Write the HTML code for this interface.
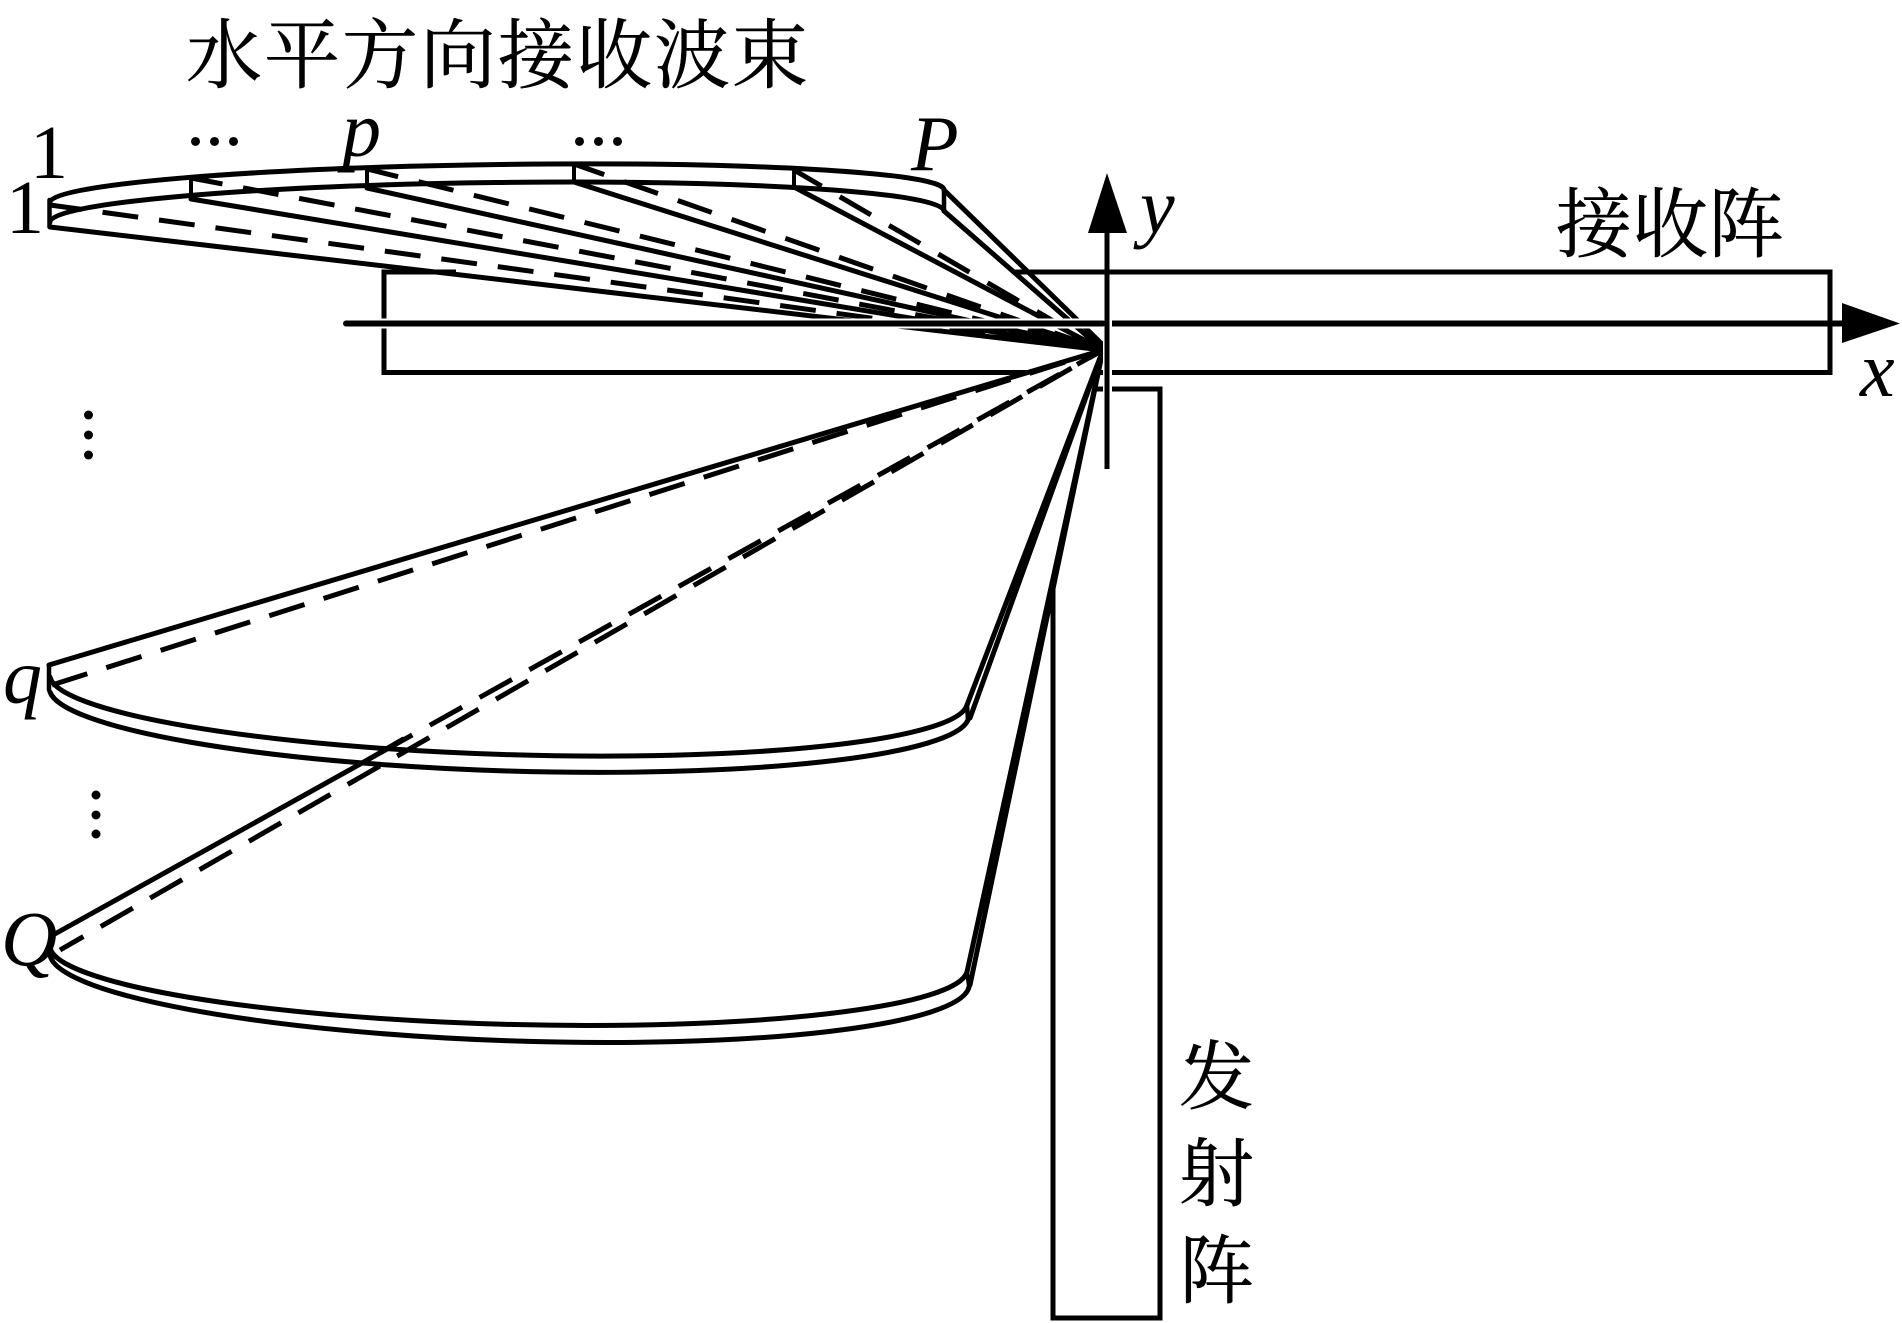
<!DOCTYPE html>
<html><head><meta charset="utf-8"><style>
html,body{margin:0;padding:0;background:#fff}
svg{display:block}
.s{font-family:"Liberation Serif","Noto Serif CJK SC",serif;fill:#000;stroke:#000;stroke-width:.5}
.i{font-family:"Liberation Serif",serif;font-style:italic;fill:#000;font-size:78px}
.n{font-family:"Liberation Serif",serif;fill:#000;font-size:76px}
</style></head><body>
<svg width="1902" height="1323" viewBox="0 0 1902 1323" xmlns="http://www.w3.org/2000/svg">
<rect width="1902" height="1323" fill="#fff"/>
<g fill="none" stroke="#000" stroke-width="5">
<rect x="384" y="272" width="1446" height="100.5"/>
<rect x="1053" y="389" width="107" height="929"/>
</g>
<!-- white beam fills -->
<g fill="#fff" stroke="none">
<path d="M50 202 A447 31.5 -0.8 0 1 944 190 L944 211 L1103 350 L50 227Z"/>
<path d="M53 935 L1103 350 L970 985 L967 972 L50 950Z"/>
<path d="M49 665 L1103 350 L970 718 L50 692Z"/>
<path d="M50 950 A459 72 2 0 0 969 987 L1103 350 L53 935Z"/>
</g>
<line x1="384" y1="272" x2="456" y2="272" stroke="#000" stroke-width="5"/>
<g fill="none" stroke="#000" stroke-width="5" stroke-linecap="round" stroke-linejoin="round">
<!-- top beam -->
<path d="M50 202 A447 31.5 -0.8 0 1 944 190"/>
<path d="M50 222 A447 34 -0.7 0 1 944 211"/>
<path d="M49.5 200V227M944 190V211" stroke-width="4.5"/>
<path d="M191 178V199M367 169V188M574 164V182M794 170V187" stroke-width="4"/>
<path d="M50 227L1103 350M191 199L1103 350M367 188L1103 350M574 182L1103 350M794 187L1103 350M944 211L1103 350M944 190L1103 345"/>
<g stroke-dasharray="36 21" stroke-linecap="butt" stroke-dashoffset="4">
<path d="M50 205L1103 350M191 178L1103 350M367 169L1103 350M574 164L1103 350M794 170L1103 350"/>
</g>
<!-- q beam -->
<path d="M50 677 A459 66 1.75 0 0 967 705"/>
<path d="M50 692 A460 69 1.75 0 0 968 720"/>
<path d="M49 665V690M967 705L968 720" stroke-width="4.5"/>
<path d="M49 665L1103 350M967 705L1103 350M970 718L1103 350"/>
<path d="M52 685L1103 350" stroke-dasharray="37 20" stroke-linecap="butt"/>
<!-- Q beam -->
<path d="M50 948 A459 67 1.5 0 0 967 972"/>
<path d="M50 955 A460 72 2 0 0 969 987"/>
<path d="M967 972L969 987" stroke-width="4"/>
<path d="M53 935L380 753M967 972L1103 350M970 985L1103 350"/>
<path d="M380 753L1103 350" stroke-dasharray="37 20" stroke-linecap="butt"/>
<path d="M60 950L1103 350" stroke-dasharray="37 20" stroke-dashoffset="10" stroke-linecap="butt"/>
<path d="M353 768L403 739" stroke-width="4.5"/>
</g>
<!-- axis halos and axes -->
<rect x="1103" y="316" width="9" height="80" fill="#fff"/>
<line x1="344" y1="323.5" x2="1103" y2="323.5" stroke="#fff" stroke-width="10"/>
<line x1="346" y1="323.5" x2="1103" y2="323.5" stroke="#000" stroke-width="6" stroke-linecap="round"/>
<line x1="1112" y1="323.5" x2="1844" y2="323.5" stroke="#000" stroke-width="6"/>
<polygon points="1842,303 1900,323.5 1842,343" fill="#000"/>
<line x1="1107" y1="230" x2="1107" y2="469" stroke="#000" stroke-width="5"/>
<polygon points="1107,173 1088,233 1127,233" fill="#000"/>
<!-- vertical dots -->
<g fill="#000">
<circle cx="88.5" cy="415" r="4.5"/><circle cx="88.5" cy="435" r="4.5"/><circle cx="88.5" cy="455" r="4.5"/>
<circle cx="96" cy="795" r="4.5"/><circle cx="96" cy="815" r="4.5"/><circle cx="96" cy="834" r="4.5"/>
</g>
<!-- text -->
<text class="s" x="186" y="82" font-size="76" letter-spacing="2">水平方向接收波束</text>
<text class="s" x="1556" y="251" font-size="76">接收阵</text>
<text class="s" x="1179" y="1103" font-size="75">发</text>
<text class="s" x="1179" y="1200" font-size="75">射</text>
<text class="s" x="1179" y="1297" font-size="75">阵</text>
<text class="n" x="30" y="178">1</text>
<text class="n" x="6" y="233">1</text>
<text class="n" x="186" y="145" font-size="68">...</text>
<text class="n" x="570" y="145" font-size="68">...</text>
<text class="i" x="342" y="156">p</text>
<text class="i" x="911" y="170">P</text>
<text class="i" x="1140" y="233">y</text>
<text class="i" x="1860" y="396">x</text>
<text class="i" x="3" y="703">q</text>
<text class="i" x="1" y="965">Q</text>
</svg>
</body></html>
